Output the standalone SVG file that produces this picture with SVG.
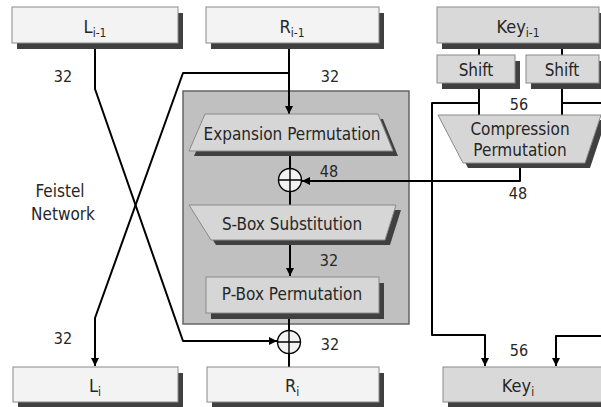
<svg xmlns="http://www.w3.org/2000/svg" width="601" height="407" viewBox="0 0 601 407">
  <style>
    text { font-family: "DejaVu Sans Condensed", "DejaVu Sans", sans-serif; font-stretch: condensed; fill: #262626; text-anchor: middle; }
    .t { font-size: 17px; }
    .b { font-size: 18px; }
    .n { font-size: 16px; }
    .sub { font-size: 12px; }
    .box { fill: #f3f3f3; stroke: #8a8a8a; stroke-width: 1; }
    .kbox { fill: #d9d9d9; stroke: #8a8a8a; stroke-width: 1; }
    .op { fill: #d6d6d6; stroke: #8a8a8a; stroke-width: 1; }
    .shadow { fill: #404040; }
    .wire { fill: none; stroke: #000; stroke-width: 2; stroke-linejoin: round; }
    .xor { fill: #f2f2f2; stroke: #000; stroke-width: 1.4; }
    .xorx { stroke: #000; stroke-width: 1.4; }
  </style>
  <defs>
    <marker id="arrow" markerUnits="userSpaceOnUse" markerWidth="9" markerHeight="9" refX="8" refY="4" orient="auto">
      <path d="M0,0 L8,4 L0,8 z" fill="#000"/>
    </marker>
  </defs>

  <!-- round function container -->
  <g id="round-f">
    <rect x="183" y="91" width="226" height="233" fill="#c0c0c0" stroke="#666" stroke-width="1.5"/>
  </g>

  <!-- connectors -->
  <g id="connectors">
    <path class="wire" d="M95,43 V89 L183,341 H277" marker-end="url(#arrow)"/>
    <path class="wire" d="M289,43 V114" marker-end="url(#arrow)"/>
    <path class="wire" d="M289,73 H183 L95,318 V366" marker-end="url(#arrow)"/>
    <path class="wire" d="M290,151 V205"/>
    <path class="wire" d="M290,240 V276" marker-end="url(#arrow)"/>
    <path class="wire" d="M289,313 V367"/>
    <path class="wire" d="M479,43 V55 M562,43 V55"/>
    <path class="wire" d="M479,83 V115 M562,83 V115"/>
    <path class="wire" d="M479,103 H432 V335 H485 V366" marker-end="url(#arrow)"/>
    <path class="wire" d="M562,103 H601"/>
    <path class="wire" d="M601,336 H556 V366" marker-end="url(#arrow)"/>
    <path class="wire" d="M520,163 V181 H302" marker-end="url(#arrow)"/>
  </g>

  <g id="L-prev">
    <rect class="shadow" x="17" y="13" width="166" height="36"/>
    <rect class="box" x="12" y="7" width="166" height="36"/>
    <text class="b" x="95" y="33">L<tspan class="sub" dy="4">i-1</tspan></text>
  </g>
  <g id="R-prev">
    <rect class="shadow" x="211" y="13" width="173" height="36"/>
    <rect class="box" x="206" y="7" width="173" height="36"/>
    <text class="b" x="292" y="33">R<tspan class="sub" dy="4">i-1</tspan></text>
  </g>
  <g id="key-prev">
    <rect class="shadow" x="442" y="13" width="162" height="36"/>
    <rect class="kbox" x="437" y="7" width="162" height="36"/>
    <text class="b" x="518" y="33">Key<tspan class="sub" dy="4">i-1</tspan></text>
  </g>
  <g id="shift-left">
    <rect class="shadow" x="442" y="61" width="78" height="28"/>
    <rect class="kbox" x="437" y="55" width="78" height="28"/>
    <text class="t" x="476" y="76">Shift</text>
  </g>
  <g id="shift-right">
    <rect class="shadow" x="531" y="61" width="73" height="28"/>
    <rect class="kbox" x="526" y="55" width="73" height="28"/>
    <text class="t" x="562" y="76">Shift</text>
  </g>
  <g id="compression">
    <polygon class="shadow" points="443,120 606,120 590,168 468,168"/>
    <polygon class="op" points="438,115 601,115 585,163 463,163"/>
    <text class="t" x="520" y="135">Compression</text>
    <text class="t" x="520" y="156">Permutation</text>
  </g>
  <g id="expansion">
    <polygon class="shadow" points="210,119 383,119 398,156 194,156"/>
    <polygon class="op" points="205,114 378,114 393,151 189,151"/>
    <text class="t" x="292" y="140">Expansion Permutation</text>
  </g>
  <g id="xor-key">
    <circle class="xor" cx="290" cy="180" r="11.5"/>
    <path class="xorx" d="M278.5,180 H301.5 M290,168.5 V191.5"/>
  </g>
  <g id="sbox">
    <polygon class="shadow" points="194,210 401,210 390,245 216,245"/>
    <polygon class="op" points="189,205 396,205 385,240 211,240"/>
    <text class="t" x="292" y="230">S-Box Substitution</text>
  </g>
  <g id="pbox">
    <rect class="shadow" x="211" y="283" width="173" height="36"/>
    <rect class="op" x="206" y="277" width="173" height="36"/>
    <text class="t" x="292" y="300">P-Box Permutation</text>
  </g>
  <g id="xor-left">
    <circle class="xor" cx="289" cy="342" r="11.5"/>
    <path class="xorx" d="M277.5,342 H300.5 M289,330.5 V353.5"/>
  </g>
  <g id="L-next">
    <rect class="shadow" x="18" y="373" width="165" height="36"/>
    <rect class="box" x="13" y="367" width="165" height="35"/>
    <text class="b" x="95" y="392">L<tspan class="sub" dy="4">i</tspan></text>
  </g>
  <g id="R-next">
    <rect class="shadow" x="212" y="373" width="172" height="36"/>
    <rect class="box" x="207" y="367" width="172" height="35"/>
    <text class="b" x="292" y="392">R<tspan class="sub" dy="4">i</tspan></text>
  </g>
  <g id="key-next">
    <rect class="shadow" x="448" y="373" width="160" height="36"/>
    <rect class="kbox" x="443" y="367" width="160" height="35"/>
    <text class="b" x="518" y="392">Key<tspan class="sub" dy="4">i</tspan></text>
  </g>

  <!-- labels -->
  <g id="labels">
    <text class="t" x="60" y="197">Feistel</text>
    <text class="t" x="63" y="220">Network</text>
    <text class="n" x="63" y="82">32</text>
    <text class="n" x="330" y="82">32</text>
    <text class="n" x="329" y="177">48</text>
    <text class="n" x="518" y="199">48</text>
    <text class="n" x="329" y="266">32</text>
    <text class="n" x="330" y="350">32</text>
    <text class="n" x="63" y="344">32</text>
    <text class="n" x="519" y="110">56</text>
    <text class="n" x="519" y="356">56</text>
  </g>
</svg>
